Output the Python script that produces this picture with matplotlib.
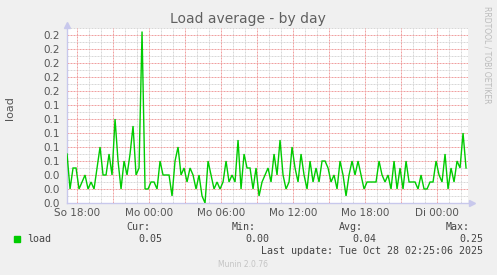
import numpy as np
import matplotlib
matplotlib.use("Agg")
import matplotlib.pyplot as plt

# ---- data ----
start_hour = -0.83          # hours relative to "So 18:00"
step_hour = 0.25
load = [
    0.07, 0.02, 0.05, 0.05, 0.02, 0.03, 0.04, 0.02, 0.03, 0.02, 0.05, 0.08, 0.04, 0.04, 0.07, 0.04, 0.12, 0.06, 0.02, 0.06,
    0.04, 0.07, 0.11, 0.04, 0.05, 0.245, 0.02, 0.02, 0.03, 0.03, 0.02, 0.06, 0.04, 0.04, 0.04, 0.01, 0.06, 0.08, 0.04,
    0.05, 0.03, 0.05, 0.04, 0.02, 0.04, 0.01, 0.00, 0.06, 0.04, 0.02, 0.03, 0.02, 0.03, 0.06, 0.03, 0.04, 0.03, 0.09,
    0.02, 0.07, 0.05, 0.05, 0.02, 0.05, 0.01, 0.03, 0.04, 0.05, 0.03, 0.07, 0.04, 0.09, 0.04, 0.02, 0.03, 0.08, 0.05,
    0.03, 0.07, 0.04, 0.02, 0.06, 0.03, 0.05, 0.03, 0.06, 0.06, 0.05, 0.03, 0.04, 0.02, 0.06, 0.04, 0.01, 0.04, 0.06, 0.04,
    0.06, 0.04, 0.02, 0.03, 0.03, 0.03, 0.03, 0.06, 0.04, 0.03, 0.04, 0.02, 0.06, 0.02, 0.05, 0.02, 0.06, 0.03, 0.03,
    0.03, 0.02, 0.04, 0.02, 0.02, 0.03, 0.03, 0.06, 0.04, 0.03, 0.07, 0.02, 0.05, 0.03, 0.06, 0.05, 0.10, 0.05,
]
x_tick_pos = [0, 6, 12, 18, 24, 30]
x_tick_labels = ["So 18:00", "Mo 00:00", "Mo 06:00", "Mo 12:00", "Mo 18:00", "Di 00:00"]
y_tick_pos = [0.0, 0.02, 0.04, 0.06, 0.08, 0.10, 0.12, 0.14, 0.16, 0.18, 0.20, 0.22, 0.24]
y_tick_labels = ["0.0", "0.0", "0.0", "0.1", "0.1", "0.1", "0.1", "0.1", "0.2", "0.2", "0.2", "0.2", "0.2"]
legend_name = "load"
stat_names = ["Cur:", "Min:", "Avg:", "Max:"]
stat_values = ["0.05", "0.00", "0.04", "0.25"]
last_update = "Last update: Tue Oct 28 02:25:06 2025"

hours = start_hour + step_hour * np.arange(len(load))

W, H = 497, 275
fig = plt.figure(figsize=(W / 100, H / 100), dpi=100)
fig.patch.set_facecolor("#F0F0F0")

L, R, T, B = 67, 468, 28, 203
ax = fig.add_axes([L / W, 1 - B / H, (R - L) / W, (B - T) / H])
ax.set_facecolor("white")
x0 = -10 / 12
ax.set_xlim(x0, x0 + (R - L) / 12)
ax.set_ylim(0, 0.25)

# grid
red = "#F0A0A0"
grey = "#D8D8D8"
dash = (0, (2, 1))
gkw = dict(lw=0.72, ls=dash, snap=True)
for h in range(0, 33):
    if h % 3 == 0:
        continue
    ax.axvline(h, color=grey, zorder=1, **gkw)
for yv in np.arange(0.01, 0.255, 0.02):
    ax.axhline(yv, color=grey, zorder=1, **gkw)
for h in range(0, 33, 3):
    ax.axvline(h, color=red, zorder=1.5, **gkw)
for yv in y_tick_pos[1:]:
    ax.axhline(yv, color=red, zorder=1.5, **gkw)

ax.plot(hours, load, color="#00CC00", lw=1.0, zorder=3, solid_joinstyle="miter")

for s in ["top", "right"]:
    ax.spines[s].set_visible(False)
for s in ["left", "bottom"]:
    ax.spines[s].set_color("#C8C8EC")
    ax.spines[s].set_linewidth(1.0)
ax.plot([0], [1.02], marker="^", color="#C8C8EC", markersize=4, transform=ax.transAxes, clip_on=False)
ax.plot([1.01], [0], marker=">", color="#C8C8EC", markersize=4, transform=ax.transAxes, clip_on=False)

ax.set_xticks(x_tick_pos)
ax.set_xticklabels(x_tick_labels)
ax.set_yticks(y_tick_pos)
ax.set_yticklabels(y_tick_labels)
ax.tick_params(axis="both", length=0, labelsize=7.5, labelcolor="#555555")
ax.tick_params(axis="y", pad=5)
ax.tick_params(axis="x", pad=3.5)


def px(x, y):
    return x / W, 1 - y / H


fig.text(*px(248, 19), "Load average - by day", ha="center", va="center",
         fontsize=10, color="#606060")
fig.text(*px(10, 108), "load", ha="center", va="center", rotation=90,
         fontsize=8, color="#555555")
fig.text(*px(487, 55), "RRDTOOL / TOBI OETIKER", ha="center", va="center",
         rotation=270, fontsize=5.5, color="#BBBBBB")

mono = "DejaVu Sans Mono"
fig.patches.append(plt.Rectangle(px(14, 242), 6 / W, 6 / H, transform=fig.transFigure,
                                 color="#00CC00"))
fig.text(*px(27, 239.5), legend_name, ha="left", va="center", family=mono,
         fontsize=7.2, color="#444444")
hdr_right = [150, 256, 363, 470]
val_right = [162, 269, 376, 483]
for n, v, hx, vx in zip(stat_names, stat_values, hdr_right, val_right):
    fig.text(*px(hx, 227.5), n, ha="right", va="center", family=mono, fontsize=7.2, color="#444444")
    fig.text(*px(vx, 239.5), v, ha="right", va="center", family=mono, fontsize=7.2, color="#444444")
fig.text(*px(483, 251.5), last_update, ha="right", va="center", family=mono,
         fontsize=7.2, color="#444444")
fig.text(*px(243, 264.5), "Munin 2.0.76", ha="center", va="center", fontsize=5.5,
         color="#C4C4C4")

fig.savefig("out.png", dpi=100, facecolor=fig.get_facecolor())
